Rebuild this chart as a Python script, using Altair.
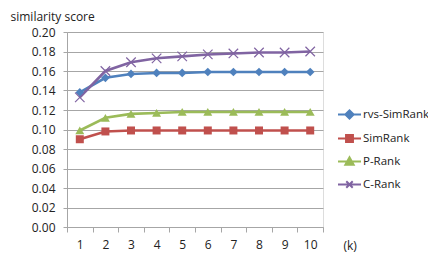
import altair as alt
import pandas as pd

k = list(range(1, 11))
series = ["rvs-SimRank", "SimRank", "P-Rank", "C-Rank"]
rvs = [0.138, 0.153, 0.157, 0.158, 0.158, 0.159, 0.159, 0.159, 0.159, 0.159]
sim = [0.090, 0.098, 0.099, 0.099, 0.099, 0.099, 0.099, 0.099, 0.099, 0.099]
prank = [0.099, 0.112, 0.116, 0.117, 0.118, 0.118, 0.118, 0.118, 0.118, 0.118]
crank = [0.133, 0.160, 0.169, 0.173, 0.175, 0.177, 0.178, 0.179, 0.179, 0.180]
colors = ["#4f81bd", "#c0504d", "#9bbb59", "#8064a2"]
shapes = ["diamond", "square", "triangle-up", "M-1,-1L1,1M-1,1L1,-1"]
marker_sizes = [75, 64, 80, 90]
legend_paths = [
    "M-1,0H1M-0.36,0L0,-0.36L0.36,0L0,0.36Z",
    "M-1,0H1M-0.3,-0.3H0.3V0.3H-0.3Z",
    "M-1,0H1M-0.36,0.28L0,-0.36L0.36,0.28Z",
    "M-1,0H1M-0.28,-0.28L0.28,0.28M-0.28,0.28L0.28,-0.28",
]
x_ticks = [0.5 + i * 0.5 for i in range(21)]
y_ticks = [round(i * 0.02, 2) for i in range(11)]

FONT = "Open Sans"
TXT = "#222222"
GRID = "#a6a6a6"

df = pd.DataFrame({
    "k": k * 4,
    "score": rvs + sim + prank + crank,
    "series": sum([[s] * len(k) for s in series], []),
})

shape_expr = ""
for s, p in zip(series[:-1], legend_paths[:-1]):
    shape_expr += f"datum.value == '{s}' ? '{p}' : "
shape_expr += f"'{legend_paths[-1]}'"

x_enc = alt.X(
    "k:Q",
    scale=alt.Scale(domain=[0.5, 10.5], nice=False, zero=False),
    axis=alt.Axis(
        values=x_ticks,
        tickCount=len(x_ticks),
        labelExpr="datum.value % 1 == 0 ? format(datum.value, 'd') : ''",
        tickOpacity={"condition": {"test": "datum.value % 1 == 0", "value": 0}, "value": 1},
        labelOverlap=False,
        grid=False,
        tickSize=5,
        tickColor=GRID,
        domainColor=GRID,
        labelPadding=7,
        labelBaseline="top",
        labelFont=FONT,
        labelFontSize=12,
        labelColor=TXT,
        title="(k)",
        titleX=276,
        titleY=18,
        titleAlign="left",
        titleBaseline="middle",
        titleFont=FONT,
        titleFontSize=12,
        titleFontWeight="normal",
        titleColor=TXT,
    ),
)
y_enc = alt.Y(
    "score:Q",
    scale=alt.Scale(domain=[0, 0.2], nice=False),
    axis=alt.Axis(
        values=y_ticks,
        tickCount=len(y_ticks),
        format=".2f",
        labelOverlap=False,
        grid=True,
        gridColor=GRID,
        tickSize=4,
        tickColor=GRID,
        domainColor=GRID,
        labelPadding=8,
        labelFont=FONT,
        labelFontSize=12,
        labelColor=TXT,
        title="similarity score",
        titleAngle=0,
        titleX=-57,
        titleY=-21,
        titleAlign="left",
        titleBaseline="top",
        titleFont=FONT,
        titleFontSize=12,
        titleFontWeight="normal",
        titleColor=TXT,
    ),
)
color_scale = alt.Scale(domain=series, range=colors)

lines = alt.Chart(df).mark_line(strokeWidth=2.6).encode(
    x=x_enc,
    y=y_enc,
    color=alt.Color(
        "series:N",
        scale=color_scale,
        legend=alt.Legend(
            orient="none",
            legendX=270,
            legendY=70,
            title=None,
            symbolSize=529,
            labelOffset=1,
            rowPadding=3,
            padding=0,
            labelFont=FONT,
            labelFontSize=11.5,
            labelColor=TXT,
            labelOverlap=False,
            symbolType=alt.expr(shape_expr),
            symbolFillColor=alt.expr("scale('color', datum.value)"),
            symbolStrokeColor=alt.expr("scale('color', datum.value)"),
            symbolStrokeWidth=2,
        ),
    ),
    order="k:Q",
)

layers = [lines]
for s, shp, sz in zip(series, shapes, marker_sizes):
    is_cross = shp.startswith("M")
    layers.append(
        alt.Chart(df).transform_filter(
            alt.FieldEqualPredicate(field="series", equal=s)
        ).mark_point(
            shape=shp,
            filled=not is_cross,
            opacity=1,
            size=sz,
            strokeWidth=1.2 if is_cross else 0,
        ).encode(
            x="k:Q",
            y="score:Q",
            color=alt.Color("series:N", scale=color_scale, legend=None),
        )
    )

chart = alt.layer(*layers).properties(
    width=256,
    height=195,
    autosize=alt.AutoSizeParams(type="none"),
    padding={"left": 59, "top": 24, "right": 105, "bottom": 25},
).configure_view(stroke=None).configure(background="white")

chart.save("out.html", embed_options={"renderer": "svg", "actions": False})
